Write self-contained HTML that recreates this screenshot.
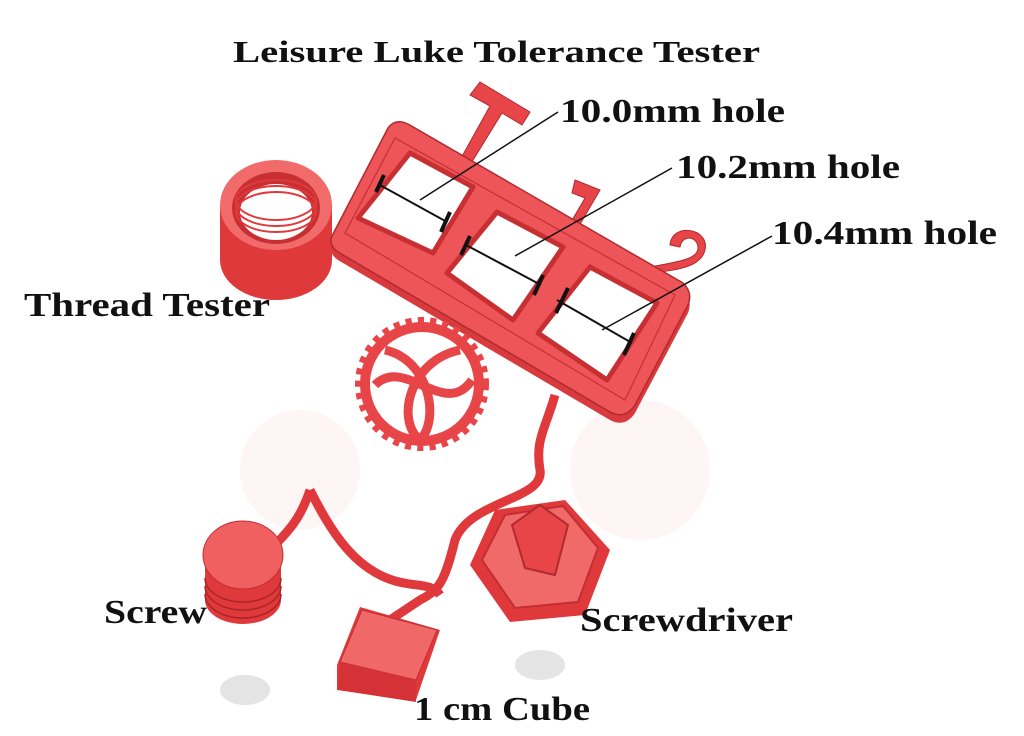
<!DOCTYPE html>
<html><head><meta charset="utf-8"><style>
html,body{margin:0;padding:0;background:#fff}
svg{display:block}
.lbl{font-family:"Liberation Serif",serif;font-weight:bold;fill:#111}
</style></head><body>
<svg width="1024" height="736" viewBox="0 0 1024 736" xmlns="http://www.w3.org/2000/svg">
<g opacity="0.05" fill="#e33">
<circle cx="300" cy="470" r="60"/><circle cx="640" cy="470" r="70"/>
</g>
<ellipse cx="245" cy="690" rx="25" ry="15" fill="#e4e4e4"/>
<ellipse cx="540" cy="665" rx="25" ry="15" fill="#e4e4e4"/>

<!-- wires -->
<path d="M555 395 C545 430 535 440 540 470 C545 500 470 500 455 540 C445 580 440 590 420 600 L390 620" fill="none" stroke="#e0393c" stroke-width="9"/>
<path d="M310 490 C300 520 290 530 260 560 M310 490 C330 530 350 560 380 575 C410 590 430 580 440 595" fill="none" stroke="#e0393c" stroke-width="9"/>

<!-- T 1 2 -->
<g fill="#e84548" stroke="#b02a2e" stroke-width="1">
<path d="M470 95 L480 82 L530 112 L522 125 L502 113 L470 165 L460 160 L490 106 Z"/>
<path d="M575 180 L600 190 L565 250 L557 246 L585 198 L572 193 Z"/>
<path d="M670 245 C672 222 710 228 705 250 C700 270 670 270 640 275 L645 268 C675 262 698 260 698 248 C698 236 682 234 680 247 Z"/>
</g>

<!-- thread tester -->
<path d="M220 205 L220 260 A56 40 0 0 0 332 260 L332 205 Z" fill="#e0393c"/>
<ellipse cx="276" cy="205" rx="56" ry="45" fill="#f26b6b"/>
<ellipse cx="276" cy="208" rx="44" ry="36" fill="#c82f33"/>
<ellipse cx="276" cy="212" rx="36" ry="28" fill="#fff"/>
<g fill="none" stroke="#e0393c" stroke-width="2"><ellipse cx="276" cy="200" rx="40" ry="20"/><ellipse cx="276" cy="206" rx="40" ry="20"/><ellipse cx="276" cy="212" rx="40" ry="20"/></g>

<!-- frame -->
<path d="M332 236 L388 128 Q395 118 408 124 L683 283 Q693 292 688 305 L635 405 Q625 420 610 412 L338 252 Q328 245 332 236 Z" fill="#d93a3e" transform="translate(0,8)"/>
<path d="M332 236 L388 128 Q395 118 408 124 L683 283 Q693 292 688 305 L635 405 Q625 420 610 412 L338 252 Q328 245 332 236 Z" fill="#ee5558" stroke="#b02a2e" stroke-width="1.5"/>
<path d="M345 233 L395 138 L675 295 L625 400 Z" fill="none" stroke="#c43034" stroke-width="1.2"/>
<g fill="#fff" stroke="#c82f33" stroke-width="5" stroke-linejoin="round">
<path d="M410 153 L473 187 L433 253 L358 218 Z"/>
<path d="M497 212 L563 247 L513 320 L447 273 Z"/>
<path d="M590 267 L657 303 L607 380 L538 333 Z"/>
</g>
<g stroke="#111" stroke-width="2">
<line x1="378" y1="184" x2="447" y2="222"/><line x1="466" y1="245" x2="541" y2="285"/><line x1="557" y1="300" x2="632" y2="343"/>
</g>
<g stroke="#111" stroke-width="4">
<line x1="384" y1="175" x2="376" y2="192"/><line x1="450" y1="212" x2="441" y2="232"/>
<line x1="470" y1="236" x2="461" y2="255"/><line x1="543" y1="275" x2="534" y2="295"/>
<line x1="568" y1="288" x2="556" y2="313"/><line x1="634" y1="333" x2="624" y2="355"/>
</g>

<!-- gear -->
<circle cx="422" cy="384" r="62" fill="#e84548" stroke="#e84548" stroke-width="10" stroke-dasharray="6 6"/>
<circle cx="422" cy="384" r="52" fill="#fff"/>
<path d="M385 350 C430 360 440 420 420 440 C395 420 410 360 460 350" fill="none" stroke="#e84548" stroke-width="9"/>
<path d="M375 385 C405 355 445 420 472 380" fill="none" stroke="#e84548" stroke-width="9"/>

<!-- screw -->
<path d="M205 565 L205 600 A38 24 0 0 0 281 600 L281 565 Z" fill="#e0393c"/>
<g fill="none" stroke="#a82428" stroke-width="1.5"><path d="M205 578 A38 24 0 0 0 281 578"/><path d="M205 586 A38 24 0 0 0 281 586"/><path d="M205 594 A38 24 0 0 0 281 594"/></g>
<ellipse cx="243" cy="555" rx="40" ry="34" fill="#f06060" stroke="#c22e32" stroke-width="1"/>

<!-- cube -->
<path d="M337 665 L360 607 L440 630 L416 700 L337 690 Z" fill="#e0393c"/>
<path d="M340 662 L362 610 L437 630 L416 680 Z" fill="#f06868" stroke="#c22e32" stroke-width="1"/>
<path d="M340 662 L416 680 L416 702 L338 690 Z" fill="#d43236"/>

<!-- screwdriver -->
<path d="M470 565 L495 510 L565 500 L610 550 L585 615 L510 622 Z" fill="#e0393c"/>
<path d="M482 560 L505 515 L563 506 L598 548 L578 602 L515 608 Z" fill="#f06a6a" stroke="#c22e32" stroke-width="2"/>
<path d="M525 568 L512 525 L540 505 L568 525 L555 575 Z" fill="#e84548" stroke="#b02a2e" stroke-width="2"/>

<g stroke="#111" stroke-width="1.5">
<line x1="558" y1="112" x2="420" y2="200"/><line x1="672" y1="168" x2="515" y2="256"/><line x1="772" y1="236" x2="602" y2="330"/>
</g>

<text class="lbl" x="233" y="62" font-size="31" textLength="527" lengthAdjust="spacingAndGlyphs">Leisure Luke Tolerance Tester</text>
<text class="lbl" x="560" y="122" font-size="34" textLength="225" lengthAdjust="spacingAndGlyphs">10.0mm hole</text>
<text class="lbl" x="676" y="178" font-size="34" textLength="224" lengthAdjust="spacingAndGlyphs">10.2mm hole</text>
<text class="lbl" x="772" y="244" font-size="34" textLength="225" lengthAdjust="spacingAndGlyphs">10.4mm hole</text>
<text class="lbl" x="24" y="316" font-size="34" textLength="246" lengthAdjust="spacingAndGlyphs">Thread Tester</text>
<text class="lbl" x="104" y="623" font-size="34" textLength="103" lengthAdjust="spacingAndGlyphs">Screw</text>
<text class="lbl" x="580" y="631" font-size="34" textLength="213" lengthAdjust="spacingAndGlyphs">Screwdriver</text>
<text class="lbl" x="414" y="720" font-size="34" textLength="176" lengthAdjust="spacingAndGlyphs">1 cm Cube</text>
</svg>
</body></html>
